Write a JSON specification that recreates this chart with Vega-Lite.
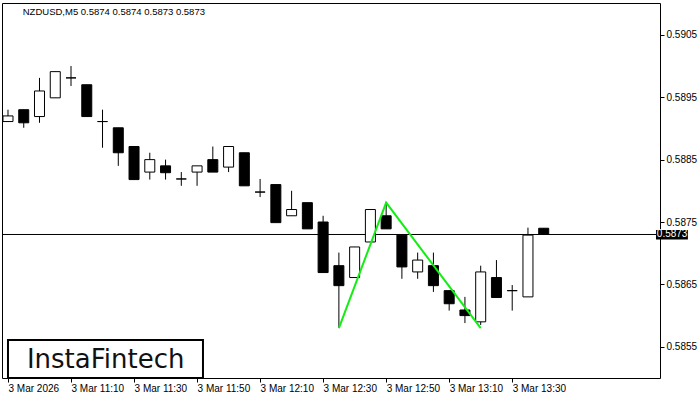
{
  "$schema": "https://vega.github.io/schema/vega-lite/v6.json",
  "width": 658,
  "height": 375,
  "autosize": {"type": "none"},
  "padding": {"left": 2, "top": 3, "right": 40, "bottom": 22},
  "background": "white",
  "config": {
    "view": {"stroke": "black", "strokeWidth": 1},
    "axis": {"labelFont": "Liberation Sans", "labelFontSize": 10, "labelColor": "black", "tickColor": "black", "domain": false, "grid": false}
  },
  "datasets": {
    "candles": [
      {"i": 0, "open": 0.58911, "high": 0.58930, "low": 0.58911, "close": 0.58920},
      {"i": 1, "open": 0.58930, "high": 0.58930, "low": 0.58901, "close": 0.58909},
      {"i": 2, "open": 0.58919, "high": 0.58981, "low": 0.58909, "close": 0.58960},
      {"i": 3, "open": 0.58949, "high": 0.58991, "low": 0.58949, "close": 0.58991},
      {"i": 4, "open": 0.58981, "high": 0.59000, "low": 0.58968, "close": 0.58981},
      {"i": 5, "open": 0.58970, "high": 0.58970, "low": 0.58919, "close": 0.58919},
      {"i": 6, "open": 0.58911, "high": 0.58930, "low": 0.58869, "close": 0.58911},
      {"i": 7, "open": 0.58901, "high": 0.58901, "low": 0.58840, "close": 0.58861},
      {"i": 8, "open": 0.58871, "high": 0.58871, "low": 0.58818, "close": 0.58818},
      {"i": 9, "open": 0.58830, "high": 0.58861, "low": 0.58818, "close": 0.58850},
      {"i": 10, "open": 0.58840, "high": 0.58850, "low": 0.58818, "close": 0.58829},
      {"i": 11, "open": 0.58819, "high": 0.58830, "low": 0.58808, "close": 0.58819},
      {"i": 12, "open": 0.58830, "high": 0.58840, "low": 0.58808, "close": 0.58840},
      {"i": 13, "open": 0.58850, "high": 0.58871, "low": 0.58830, "close": 0.58830},
      {"i": 14, "open": 0.58838, "high": 0.58871, "low": 0.58830, "close": 0.58871},
      {"i": 15, "open": 0.58861, "high": 0.58861, "low": 0.58808, "close": 0.58808},
      {"i": 16, "open": 0.58798, "high": 0.58819, "low": 0.58790, "close": 0.58798},
      {"i": 17, "open": 0.58810, "high": 0.58810, "low": 0.58749, "close": 0.58749},
      {"i": 18, "open": 0.58760, "high": 0.58800, "low": 0.58760, "close": 0.58770},
      {"i": 19, "open": 0.58781, "high": 0.58781, "low": 0.58739, "close": 0.58739},
      {"i": 20, "open": 0.58750, "high": 0.58760, "low": 0.58669, "close": 0.58669},
      {"i": 21, "open": 0.58680, "high": 0.58701, "low": 0.58580, "close": 0.58648},
      {"i": 22, "open": 0.58661, "high": 0.58710, "low": 0.58661, "close": 0.58710},
      {"i": 23, "open": 0.58718, "high": 0.58770, "low": 0.58718, "close": 0.58770},
      {"i": 24, "open": 0.58760, "high": 0.58781, "low": 0.58739, "close": 0.58739},
      {"i": 25, "open": 0.58729, "high": 0.58729, "low": 0.58659, "close": 0.58678},
      {"i": 26, "open": 0.58670, "high": 0.58701, "low": 0.58659, "close": 0.58689},
      {"i": 27, "open": 0.58680, "high": 0.58701, "low": 0.58638, "close": 0.58648},
      {"i": 28, "open": 0.58640, "high": 0.58640, "low": 0.58608, "close": 0.58619},
      {"i": 29, "open": 0.58609, "high": 0.58630, "low": 0.58588, "close": 0.58600},
      {"i": 30, "open": 0.58590, "high": 0.58680, "low": 0.58585, "close": 0.58670},
      {"i": 31, "open": 0.58661, "high": 0.58689, "low": 0.58629, "close": 0.58629},
      {"i": 32, "open": 0.58640, "high": 0.58649, "low": 0.58608, "close": 0.58640},
      {"i": 33, "open": 0.58630, "high": 0.58741, "low": 0.58630, "close": 0.58729},
      {"i": 34, "open": 0.58740, "high": 0.58740, "low": 0.58730, "close": 0.58730}
    ],
    "pattern": [
      {"i": 21, "price": 0.58580},
      {"i": 24, "price": 0.58781},
      {"i": 30, "price": 0.58580}
    ]
  },
  "layer": [
    {
      "data": {"name": "candles"},
      "mark": {"type": "rule", "color": "black", "strokeWidth": 1, "clip": true},
      "encoding": {
        "x": {"field": "i", "type": "quantitative", "scale": {"domain": [-0.0625, 41.0625], "nice": false, "zero": false},
          "axis": {"title": null, "values": [0, 4, 8, 12, 16, 20, 24, 28, 32], "labelExpr": "['3 Mar 2026','3 Mar 11:10','3 Mar 11:30','3 Mar 11:50','3 Mar 12:10','3 Mar 12:30','3 Mar 12:50','3 Mar 13:10','3 Mar 13:30'][datum.value/4]", "labelAlign": "left", "labelBaseline": "top", "labelPadding": 1, "tickSize": 4, "labelFlush": false, "labelOverlap": false}},
        "y": {"field": "low", "type": "quantitative", "scale": {"domain": [0.585, 0.59101], "nice": false, "zero": false},
          "axis": {"title": null, "orient": "right", "values": [0.5855, 0.5865, 0.5875, 0.5885, 0.5895, 0.5905], "format": ".4f", "tickSize": 4, "labelPadding": 2, "labelBaseline": "middle", "labelOverlap": false, "labelFlush": false}},
        "y2": {"field": "high"}
      }
    },
    {
      "data": {"values": [{"price": 0.5873}]},
      "mark": {"type": "rule", "color": "black", "strokeWidth": 1},
      "encoding": {
        "y": {"field": "price", "type": "quantitative",
          "axis": {"title": null, "orient": "right", "values": [0.5855, 0.5865, 0.5875, 0.5885, 0.5895, 0.5905], "format": ".4f", "tickSize": 4, "labelPadding": 2, "labelBaseline": "middle", "labelOverlap": false, "labelFlush": false}}
      }
    },
    {
      "data": {"name": "candles"},
      "mark": {"type": "bar", "width": 10, "stroke": "black", "strokeWidth": 1, "clip": true},
      "encoding": {
        "x": {"field": "i", "type": "quantitative",
          "axis": {"title": null, "values": [0, 4, 8, 12, 16, 20, 24, 28, 32], "labelExpr": "['3 Mar 2026','3 Mar 11:10','3 Mar 11:30','3 Mar 11:50','3 Mar 12:10','3 Mar 12:30','3 Mar 12:50','3 Mar 13:10','3 Mar 13:30'][datum.value/4]", "labelAlign": "left", "labelBaseline": "top", "labelPadding": 1, "tickSize": 4, "labelFlush": false, "labelOverlap": false}},
        "y": {"field": "open", "type": "quantitative",
          "axis": {"title": null, "orient": "right", "values": [0.5855, 0.5865, 0.5875, 0.5885, 0.5895, 0.5905], "format": ".4f", "tickSize": 4, "labelPadding": 2, "labelBaseline": "middle", "labelOverlap": false, "labelFlush": false}},
        "y2": {"field": "close"},
        "fill": {"condition": {"test": "datum.close >= datum.open", "value": "white"}, "value": "black"}
      }
    },
    {
      "data": {"name": "pattern"},
      "mark": {"type": "line", "color": "#11ee11", "strokeWidth": 2, "clip": true},
      "encoding": {
        "x": {"field": "i", "type": "quantitative",
          "axis": {"title": null, "values": [0, 4, 8, 12, 16, 20, 24, 28, 32], "labelExpr": "['3 Mar 2026','3 Mar 11:10','3 Mar 11:30','3 Mar 11:50','3 Mar 12:10','3 Mar 12:30','3 Mar 12:50','3 Mar 13:10','3 Mar 13:30'][datum.value/4]", "labelAlign": "left", "labelBaseline": "top", "labelPadding": 1, "tickSize": 4, "labelFlush": false, "labelOverlap": false}},
        "y": {"field": "price", "type": "quantitative",
          "axis": {"title": null, "orient": "right", "values": [0.5855, 0.5865, 0.5875, 0.5885, 0.5895, 0.5905], "format": ".4f", "tickSize": 4, "labelPadding": 2, "labelBaseline": "middle", "labelOverlap": false, "labelFlush": false}}
      }
    },
    {
      "data": {"values": [{"label": "NZDUSD,M5  0.5874 0.5874 0.5873 0.5873", "i": 0.9375, "price": 0.59087}]},
      "mark": {"type": "text", "align": "left", "baseline": "middle", "font": "Liberation Sans", "fontSize": 9.5, "color": "black"},
      "encoding": {
        "x": {"field": "i", "type": "quantitative",
          "axis": {"title": null, "values": [0, 4, 8, 12, 16, 20, 24, 28, 32], "labelExpr": "['3 Mar 2026','3 Mar 11:10','3 Mar 11:30','3 Mar 11:50','3 Mar 12:10','3 Mar 12:30','3 Mar 12:50','3 Mar 13:10','3 Mar 13:30'][datum.value/4]", "labelAlign": "left", "labelBaseline": "top", "labelPadding": 1, "tickSize": 4, "labelFlush": false, "labelOverlap": false}},
        "y": {"field": "price", "type": "quantitative",
          "axis": {"title": null, "orient": "right", "values": [0.5855, 0.5865, 0.5875, 0.5885, 0.5895, 0.5905], "format": ".4f", "tickSize": 4, "labelPadding": 2, "labelBaseline": "middle", "labelOverlap": false, "labelFlush": false}},
        "text": {"field": "label"}
      }
    },
    {
      "data": {"values": [{"i": 41.125, "i2": 43.15, "price": 0.58737, "price2": 0.58722}]},
      "mark": {"type": "rect", "color": "black", "clip": false},
      "encoding": {
        "x": {"field": "i", "type": "quantitative",
          "axis": {"title": null, "values": [0, 4, 8, 12, 16, 20, 24, 28, 32], "labelExpr": "['3 Mar 2026','3 Mar 11:10','3 Mar 11:30','3 Mar 11:50','3 Mar 12:10','3 Mar 12:30','3 Mar 12:50','3 Mar 13:10','3 Mar 13:30'][datum.value/4]", "labelAlign": "left", "labelBaseline": "top", "labelPadding": 1, "tickSize": 4, "labelFlush": false, "labelOverlap": false}},
        "x2": {"field": "i2"},
        "y": {"field": "price", "type": "quantitative",
          "axis": {"title": null, "orient": "right", "values": [0.5855, 0.5865, 0.5875, 0.5885, 0.5895, 0.5905], "format": ".4f", "tickSize": 4, "labelPadding": 2, "labelBaseline": "middle", "labelOverlap": false, "labelFlush": false}},
        "y2": {"field": "price2"}
      }
    },
    {
      "data": {"values": [{"label": "0.5873", "i": 42.15, "price": 0.5873}]},
      "mark": {"type": "text", "align": "center", "baseline": "middle", "font": "Liberation Sans", "fontSize": 10, "color": "white", "clip": false},
      "encoding": {
        "x": {"field": "i", "type": "quantitative",
          "axis": {"title": null, "values": [0, 4, 8, 12, 16, 20, 24, 28, 32], "labelExpr": "['3 Mar 2026','3 Mar 11:10','3 Mar 11:30','3 Mar 11:50','3 Mar 12:10','3 Mar 12:30','3 Mar 12:50','3 Mar 13:10','3 Mar 13:30'][datum.value/4]", "labelAlign": "left", "labelBaseline": "top", "labelPadding": 1, "tickSize": 4, "labelFlush": false, "labelOverlap": false}},
        "y": {"field": "price", "type": "quantitative",
          "axis": {"title": null, "orient": "right", "values": [0.5855, 0.5865, 0.5875, 0.5885, 0.5895, 0.5905], "format": ".4f", "tickSize": 4, "labelPadding": 2, "labelBaseline": "middle", "labelOverlap": false, "labelFlush": false}},
        "text": {"field": "label"}
      }
    },
    {
      "data": {"values": [{"i": 0.0, "i2": 12.375, "price": 0.58561, "price2": 0.585}]},
      "mark": {"type": "rect", "fill": "white", "stroke": "black", "strokeWidth": 2, "clip": false},
      "encoding": {
        "x": {"field": "i", "type": "quantitative",
          "axis": {"title": null, "values": [0, 4, 8, 12, 16, 20, 24, 28, 32], "labelExpr": "['3 Mar 2026','3 Mar 11:10','3 Mar 11:30','3 Mar 11:50','3 Mar 12:10','3 Mar 12:30','3 Mar 12:50','3 Mar 13:10','3 Mar 13:30'][datum.value/4]", "labelAlign": "left", "labelBaseline": "top", "labelPadding": 1, "tickSize": 4, "labelFlush": false, "labelOverlap": false}},
        "x2": {"field": "i2"},
        "y": {"field": "price", "type": "quantitative",
          "axis": {"title": null, "orient": "right", "values": [0.5855, 0.5865, 0.5875, 0.5885, 0.5895, 0.5905], "format": ".4f", "tickSize": 4, "labelPadding": 2, "labelBaseline": "middle", "labelOverlap": false, "labelFlush": false}},
        "y2": {"field": "price2"}
      }
    },
    {
      "data": {"values": [{"label": "InstaFintech", "i": 6.2, "price": 0.58516}]},
      "mark": {"type": "text", "align": "center", "baseline": "alphabetic", "font": "DejaVu Sans", "fontSize": 26, "color": "#111111"},
      "encoding": {
        "x": {"field": "i", "type": "quantitative",
          "axis": {"title": null, "values": [0, 4, 8, 12, 16, 20, 24, 28, 32], "labelExpr": "['3 Mar 2026','3 Mar 11:10','3 Mar 11:30','3 Mar 11:50','3 Mar 12:10','3 Mar 12:30','3 Mar 12:50','3 Mar 13:10','3 Mar 13:30'][datum.value/4]", "labelAlign": "left", "labelBaseline": "top", "labelPadding": 1, "tickSize": 4, "labelFlush": false, "labelOverlap": false}},
        "y": {"field": "price", "type": "quantitative",
          "axis": {"title": null, "orient": "right", "values": [0.5855, 0.5865, 0.5875, 0.5885, 0.5895, 0.5905], "format": ".4f", "tickSize": 4, "labelPadding": 2, "labelBaseline": "middle", "labelOverlap": false, "labelFlush": false}},
        "text": {"field": "label"}
      }
    }
  ]
}
